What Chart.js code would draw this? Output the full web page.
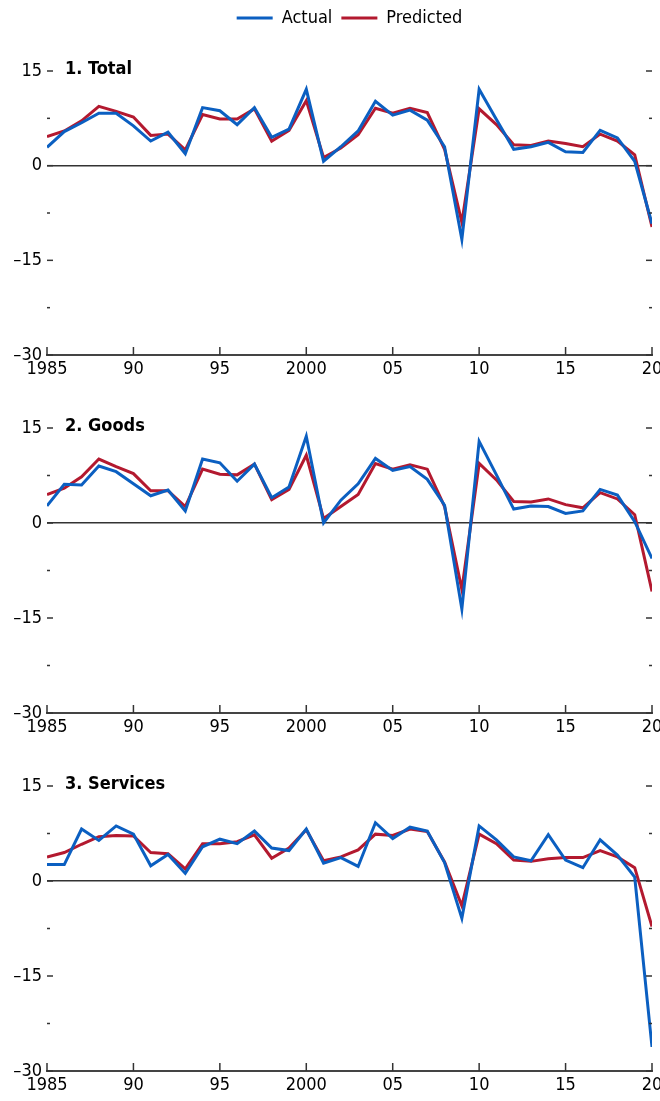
<!DOCTYPE html>
<html>
<head>
<meta charset="utf-8">
<script src="https://cdn.jsdelivr.net/npm/chart.js@4"></script>
<style>
  body { margin: 0; background: #fff; width: 660px; height: 1101px; overflow: hidden; }
  canvas { position: absolute; left: 0; }
</style>
</head>
<body>
<canvas id="c1" width="660" height="382" style="top:0px"></canvas>
<canvas id="c2" width="660" height="358" style="top:382px"></canvas>
<canvas id="c3" width="660" height="361" style="top:740px"></canvas>
<script>
const years = [1985, 1986, 1987, 1988, 1989, 1990, 1991, 1992, 1993, 1994, 1995, 1996,
  1997, 1998, 1999, 2000, 2001, 2002, 2003, 2004, 2005, 2006, 2007, 2008,
  2009, 2010, 2011, 2012, 2013, 2014, 2015, 2016, 2017, 2018, 2019, 2020];

const totalActual = [2.9, 5.4, 6.8, 8.3, 8.3, 6.3, 3.9, 5.3, 1.9, 9.2, 8.7, 6.5,
  9.2, 4.5, 5.8, 12.1, 0.7, 3.0, 5.5, 10.2, 8.0, 8.8, 7.2, 3.0,
  -11.7, 12.1, 7.3, 2.6, 3.0, 3.7, 2.2, 2.1, 5.6, 4.4, 0.7, -9.2];
const totalPredicted = [4.6, 5.5, 7.1, 9.4, 8.6, 7.7, 4.8, 5.0, 2.5, 8.1, 7.4, 7.4,
  9.0, 3.9, 5.6, 10.3, 1.3, 2.8, 4.9, 9.1, 8.3, 9.1, 8.4, 2.6,
  -9.0, 9.0, 6.5, 3.3, 3.2, 3.9, 3.5, 3.0, 5.0, 3.9, 1.7, -9.7];

const goodsActual = [2.7, 6.1, 6.0, 9.0, 8.1, 6.2, 4.3, 5.2, 1.9, 10.1, 9.5, 6.6,
  9.3, 4.0, 5.7, 13.7, 0.0, 3.6, 6.2, 10.2, 8.3, 8.9, 6.9, 2.8,
  -13.6, 12.9, 7.6, 2.2, 2.7, 2.6, 1.5, 1.9, 5.3, 4.4, 0.2, -5.6];
const goodsPredicted = [4.5, 5.5, 7.3, 10.1, 8.9, 7.8, 5.1, 5.1, 2.6, 8.5, 7.7, 7.6,
  9.3, 3.7, 5.3, 10.7, 0.7, 2.6, 4.5, 9.4, 8.5, 9.2, 8.5, 2.6,
  -10.5, 9.4, 6.8, 3.4, 3.3, 3.8, 2.9, 2.4, 4.8, 3.8, 1.3, -10.8];

const servicesActual = [2.6, 2.6, 8.2, 6.4, 8.7, 7.4, 2.4, 4.2, 1.2, 5.4, 6.6, 5.9,
  7.9, 5.2, 4.8, 8.2, 2.8, 3.7, 2.3, 9.2, 6.7, 8.5, 7.9, 2.9,
  -5.9, 8.7, 6.5, 3.8, 3.2, 7.3, 3.3, 2.1, 6.5, 4.1, 0.6, -26.2];
const servicesPredicted = [3.8, 4.5, 5.8, 7.0, 7.2, 7.1, 4.5, 4.3, 1.9, 5.9, 5.9, 6.2,
  7.3, 3.6, 5.2, 8.1, 3.2, 3.8, 4.9, 7.4, 7.2, 8.2, 7.8, 3.0,
  -3.9, 7.4, 5.9, 3.3, 3.1, 3.5, 3.7, 3.7, 4.8, 3.8, 2.1, -7.2];

const yearLabels = { 1985: '1985', 1990: '90', 1995: '95', 2000: '2000', 2005: '05', 2010: '10', 2015: '15', 2020: '20' };
const blue = '#0b5fc1';
const red = '#b3192f';
const fam = "'Liberation Sans Narrow', 'Arial Narrow', 'DejaVu Sans Condensed', sans-serif";
const fontSize = 18;

// ticks pointing inward + panel title
const panelDecor = {
  id: 'panelDecor',
  afterDraw(chart, args, opts) {
    const { ctx, chartArea: a, scales } = chart;
    const x = scales.x, y = scales.y;
    ctx.save();
    ctx.strokeStyle = '#333';
    ctx.lineWidth = 1.5;
    const seg = (x1, y1, x2, y2) => { ctx.beginPath(); ctx.moveTo(x1, y1); ctx.lineTo(x2, y2); ctx.stroke(); };
    y.ticks.forEach(t => {
      const py = y.getPixelForValue(t.value);
      const len = t.value % 15 === 0 ? 6 : 3;
      seg(a.left, py, a.left + len, py);
      seg(a.right - len, py, a.right, py);
    });
    x.ticks.forEach(t => {
      const px = x.getPixelForValue(t.value);
      seg(px, a.bottom, px, a.bottom - 8);
    });
    ctx.fillStyle = '#000';
    ctx.font = 'bold ' + fontSize + 'px ' + fam;
    ctx.textBaseline = 'middle';
    ctx.fillText(opts.title, a.left + 18, y.getPixelForValue(15) - 2);
    ctx.restore();
  }
};

function makePanel(id, title, actual, predicted, withLegend, padTop, padBottom) {
  const scales = {
    x: {
      type: 'linear', min: 1985, max: 2020,
      grid: { display: false, drawTicks: false },
      border: { display: true, color: '#444', width: 2 },
      ticks: {
        stepSize: 5, autoSkip: false, maxRotation: 0, padding: 4, color: '#000',
        font: { family: fam, size: fontSize },
        callback: v => yearLabels[v] || ''
      },
      afterFit: s => { s.height = 27; s.paddingLeft = 0; s.paddingRight = 0; }
    },
    y: {
      min: -30, max: 15,
      grid: {
        drawTicks: false,
        color: c => c.tick.value === 0 ? '#333' : 'rgba(0,0,0,0)',
        lineWidth: 1.5
      },
      border: { display: false },
      ticks: {
        stepSize: 7.5, padding: 5, color: '#000',
        font: { family: fam, size: fontSize },
        callback: v => v % 15 === 0 ? (v < 0 ? '\u2013' + Math.abs(v) : String(v)) : ''
      },
      afterFit: s => { s.width = 47; s.paddingTop = 0; s.paddingBottom = 0; }
    }
  };
  if (withLegend) {
    // empty band between the legend and the plot
    scales.spacer = {
      type: 'linear', axis: 'x', position: 'top', display: true,
      grid: { display: false, drawTicks: false }, border: { display: false },
      ticks: { display: false },
      afterFit: s => { s.height = 34; }
    };
  }
  return new Chart(document.getElementById(id), {
    type: 'line',
    data: {
      datasets: [
        { label: 'Actual', data: years.map((yr, i) => ({ x: yr, y: actual[i] })), borderColor: blue, backgroundColor: blue },
        { label: 'Predicted', data: years.map((yr, i) => ({ x: yr, y: predicted[i] })), borderColor: red, backgroundColor: red }
      ]
    },
    options: {
      responsive: false,
      animation: false,
      devicePixelRatio: 1,
      layout: { padding: { top: padTop, bottom: padBottom, left: 0, right: 8 } },
      elements: {
        line: { borderWidth: 3, tension: 0, borderJoinStyle: 'miter' },
        point: { radius: 0 }
      },
      scales,
      plugins: {
        legend: {
          display: withLegend,
          position: 'top',
          fullSize: false,
          labels: {
            boxWidth: 36, boxHeight: 3, padding: 9, color: '#000',
            font: { family: fam, size: fontSize },
            generateLabels: chart => Chart.defaults.plugins.legend.labels.generateLabels(chart)
              .map(l => Object.assign(l, { lineWidth: 0, fillStyle: l.strokeStyle }))
          }
        },
        tooltip: { enabled: false },
        panelDecor: { title }
      }
    },
    plugins: [panelDecor]
  });
}

makePanel('c1', '1. Total', totalActual, totalPredicted, true, 0, 0);
makePanel('c2', '2. Goods', goodsActual, goodsPredicted, false, 46, 0);
makePanel('c3', '3. Services', servicesActual, servicesPredicted, false, 46, 3);
</script>
</body>
</html>
